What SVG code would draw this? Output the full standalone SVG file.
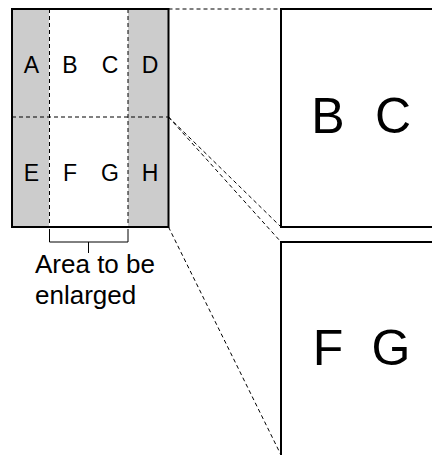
<svg xmlns="http://www.w3.org/2000/svg" width="432" height="455" viewBox="0 0 432 455">
<style>
text{font-family:"Liberation Sans",Arial,sans-serif;fill:#000}
.s{font-size:23px;text-anchor:middle}
.b{font-size:50px;text-anchor:middle}
.l{font-size:26px}
.d{stroke:#000;stroke-width:1;stroke-dasharray:4,3;fill:none}
.box{fill:#fff;stroke:#000;stroke-width:2}
</style>
<rect width="432" height="455" fill="#fff"/>
<g id="sheet">
<rect x="12" y="9" width="156.5" height="218" fill="#fff"/>
<rect x="12" y="9" width="37" height="218" fill="#cccccc"/>
<rect x="128" y="9" width="40.5" height="218" fill="#cccccc"/>
<line class="d" x1="49.5" y1="9" x2="49.5" y2="227"/>
<line class="d" x1="128" y1="9" x2="128" y2="227"/>
<line class="d" x1="12" y1="117" x2="168.5" y2="117"/>
<rect x="12" y="9" width="156.5" height="218" fill="none" stroke="#000" stroke-width="2"/>
<text class="s" x="31.5" y="73">A</text>
<text class="s" x="70" y="73">B</text>
<text class="s" x="110" y="73">C</text>
<text class="s" x="150" y="73">D</text>
<text class="s" x="31.5" y="181">E</text>
<text class="s" x="70" y="181">F</text>
<text class="s" x="110" y="181">G</text>
<text class="s" x="150" y="181">H</text>
</g>
<g id="bracket">
<path d="M49.5 229V242H128V229M88.5 242V253" fill="none" stroke="#000" stroke-width="1"/>
<text class="l" x="35" y="273">Area to be</text>
<text class="l" x="35" y="304">enlarged</text>
</g>
<g id="top-enlarged">
<rect class="box" x="281" y="9" width="170" height="218"/>
<text class="b" x="328" y="133">B</text>
<text class="b" x="393" y="133">C</text>
</g>
<g id="bottom-enlarged">
<rect class="box" x="281" y="242" width="170" height="230"/>
<text class="b" x="328" y="365">F</text>
<text class="b" x="391" y="365">G</text>
</g>
<g id="connectors">
<line class="d" x1="168.5" y1="9" x2="281" y2="9"/>
<line class="d" x1="168.5" y1="117" x2="281" y2="227"/>
<line class="d" x1="168.5" y1="117" x2="281" y2="242"/>
<line class="d" x1="168.5" y1="227" x2="281" y2="455"/>
</g>
</svg>
